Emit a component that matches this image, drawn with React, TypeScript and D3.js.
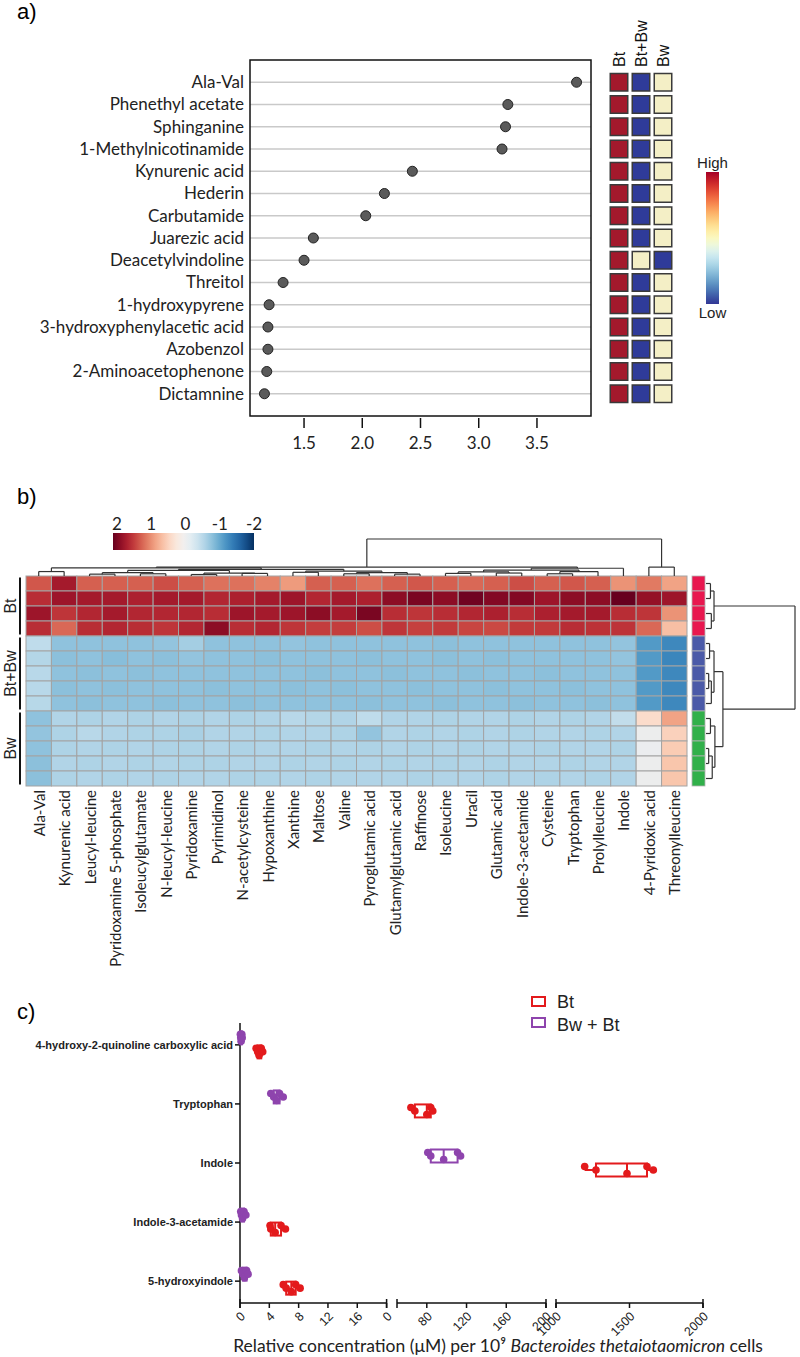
import React from "react";
import * as d3 from "d3";

// ---------------- Panel a data ----------------
const aMetabolites = [
  "Ala-Val", "Phenethyl acetate", "Sphinganine", "1-Methylnicotinamide", "Kynurenic acid",
  "Hederin", "Carbutamide", "Juarezic acid", "Deacetylvindoline", "Threitol",
  "1-hydroxypyrene", "3-hydroxyphenylacetic acid", "Azobenzol", "2-Aminoacetophenone", "Dictamnine",
];
const aScores = [3.84, 3.25, 3.23, 3.2, 2.43, 2.19, 2.03, 1.58, 1.5, 1.32, 1.2, 1.19, 1.19, 1.18, 1.16];
const aTicks = [1.5, 2.0, 2.5, 3.0, 3.5];
const aGroups = ["Bt", "Bt+Bw", "Bw"];
// relative level: 1 = high, 0.5 = middle, 0 = low
const aLevelBt = [1, 1, 1, 1, 1, 1, 1, 1, 1, 1, 1, 1, 1, 1, 1];
const aLevelBtBw = [0, 0, 0, 0, 0, 0, 0, 0, 0.5, 0, 0, 0, 0, 0, 0];
const aLevelBw = [0.5, 0.5, 0.5, 0.5, 0.5, 0.5, 0.5, 0.5, 0, 0.5, 0.5, 0.5, 0.5, 0.5, 0.5];

// ---------------- Panel b data ----------------
const bColumns = [
  "Ala-Val", "Kynurenic acid", "Leucyl-leucine", "Pyridoxamine 5-phosphate", "Isoleucylglutamate",
  "N-leucyl-leucine", "Pyridoxamine", "Pyrimidinol", "N-acetylcysteine", "Hypoxanthine",
  "Xanthine", "Maltose", "Valine", "Pyroglutamic acid", "Glutamylglutamic acid", "Raffinose",
  "Isoleucine", "Uracil", "Glutamic acid", "Indole-3-acetamide", "Cysteine", "Tryptophan",
  "Prolylleucine", "Indole", "4-Pyridoxic acid", "Threonylleucine",
];
const bGroupNames = ["Bt", "Bt+Bw", "Bw"];
const bGroupSizes = [4, 5, 5];
const bRowsBt = [
  [1.25, 1.65, 1.2, 1.2, 1.2, 1.3, 1.2, 1.1, 1.1, 1.0, 0.85, 1.2, 1.2, 1.1, 1.2, 1.25, 1.2, 1.15, 1.2, 1.3, 1.2, 1.25, 1.2, 0.9, 1.05, 0.8],
  [1.5, 1.7, 1.65, 1.65, 1.6, 1.65, 1.65, 1.55, 1.6, 1.65, 1.7, 1.55, 1.65, 1.6, 1.8, 1.9, 1.8, 1.95, 1.85, 1.85, 1.7, 1.8, 1.8, 2.0, 1.75, 1.7],
  [1.7, 1.45, 1.55, 1.65, 1.55, 1.55, 1.55, 1.5, 1.7, 1.65, 1.7, 1.8, 1.65, 1.9, 1.5, 1.45, 1.5, 1.55, 1.6, 1.5, 1.6, 1.65, 1.65, 1.5, 1.45, 0.9],
  [1.5, 1.15, 1.5, 1.55, 1.5, 1.45, 1.55, 1.8, 1.5, 1.55, 1.45, 1.4, 1.4, 1.3, 1.45, 1.38, 1.42, 1.35, 1.33, 1.42, 1.42, 1.5, 1.47, 1.46, 1.15, 0.6],
];
const bRowsBtBw = [
  [-0.5, -0.8, -0.8, -0.8, -0.8, -0.78, -0.68, -0.8, -0.8, -0.8, -0.78, -0.8, -0.8, -0.8, -0.8, -0.8, -0.82, -0.8, -0.8, -0.8, -0.8, -0.8, -0.8, -0.78, -1.15, -1.3],
  [-0.58, -0.82, -0.8, -0.84, -0.8, -0.82, -0.78, -0.8, -0.8, -0.82, -0.8, -0.8, -0.8, -0.82, -0.8, -0.8, -0.82, -0.8, -0.82, -0.8, -0.8, -0.8, -0.8, -0.78, -1.15, -1.32],
  [-0.55, -0.8, -0.82, -0.8, -0.82, -0.8, -0.8, -0.8, -0.8, -0.8, -0.8, -0.82, -0.8, -0.8, -0.82, -0.8, -0.8, -0.82, -0.8, -0.8, -0.82, -0.8, -0.8, -0.8, -1.15, -1.3],
  [-0.55, -0.82, -0.8, -0.82, -0.8, -0.8, -0.8, -0.82, -0.8, -0.8, -0.82, -0.8, -0.82, -0.8, -0.8, -0.82, -0.8, -0.8, -0.82, -0.8, -0.8, -0.82, -0.8, -0.8, -1.15, -1.3],
  [-0.56, -0.8, -0.82, -0.8, -0.8, -0.82, -0.8, -0.8, -0.82, -0.8, -0.8, -0.8, -0.8, -0.82, -0.8, -0.8, -0.82, -0.8, -0.8, -0.82, -0.8, -0.8, -0.82, -0.8, -1.15, -1.3],
];
const bRowsBw = [
  [-0.8, -0.6, -0.62, -0.6, -0.62, -0.6, -0.62, -0.6, -0.62, -0.6, -0.55, -0.58, -0.6, -0.5, -0.6, -0.6, -0.62, -0.6, -0.6, -0.62, -0.6, -0.62, -0.6, -0.48, 0.35, 0.8],
  [-0.78, -0.62, -0.55, -0.6, -0.62, -0.62, -0.65, -0.6, -0.6, -0.62, -0.6, -0.6, -0.62, -0.78, -0.6, -0.62, -0.6, -0.62, -0.6, -0.62, -0.6, -0.6, -0.62, -0.6, -0.05, 0.45],
  [-0.8, -0.62, -0.6, -0.62, -0.6, -0.62, -0.62, -0.6, -0.62, -0.6, -0.6, -0.62, -0.6, -0.62, -0.6, -0.62, -0.6, -0.62, -0.6, -0.6, -0.62, -0.6, -0.6, -0.62, -0.08, 0.5],
  [-0.82, -0.6, -0.62, -0.6, -0.62, -0.6, -0.62, -0.62, -0.6, -0.6, -0.62, -0.6, -0.62, -0.6, -0.62, -0.6, -0.62, -0.6, -0.62, -0.6, -0.6, -0.62, -0.6, -0.6, -0.05, 0.55],
  [-0.82, -0.62, -0.6, -0.62, -0.6, -0.62, -0.6, -0.6, -0.62, -0.62, -0.6, -0.62, -0.6, -0.6, -0.6, -0.62, -0.6, -0.6, -0.62, -0.6, -0.62, -0.6, -0.62, -0.6, -0.05, 0.55],
];
const bLegendTicks = [2, 1, 0, -1, -2];
type TreeNode = number | [number, TreeNode, TreeNode];
// column dendrogram: [height, left, right]
const bColTree: TreeNode = [10,
  [2.4,
    [2.2,
      [1.2, 0, 1],
      [1.8,
        [1.5, [0.9, [0.5, 2, 3], [0.6, 4, 5]], [0.8, [0.4, 6, 7], [0.7, 8, 9]]],
        [1.3, [1.0, 10, 11], [0.9, [0.6, 12, 13], [0.5, 14, 15]]],
      ],
    ],
    [2.1,
      [1.6, [1.1, [0.7, 16, 17], [0.8, 18, 19]], [1.2, [0.6, 20, 21], 22]],
      23,
    ],
  ],
  [2.4, 24, 25],
];
const bRowTree: TreeNode = [10,
  [0.9, [0.5, 0, 1], [0.6, 2, 3]],
  [1.9, [0.9, [0.4, 4, 5], [0.6, [0.3, 6, 7], 8]], [1.0, [0.5, 9, 10], [0.7, [0.3, 11, 12], 13]]],
];

// ---------------- Panel c data ----------------
const cCategories = [
  "4-hydroxy-2-quinoline carboxylic acid", "Tryptophan", "Indole", "Indole-3-acetamide", "5-hydroxyindole",
];
const cBt = [
  [2.2, 2.4, 2.6, 2.9, 3.1],
  [64, 68, 80, 84, 86],
  [1195, 1272, 1483, 1619, 1662],
  [4.1, 4.2, 4.8, 5.6, 6.2],
  [5.9, 6.3, 7.0, 7.6, 8.2],
];
const cBwBt = [
  [0.05, 0.1, 0.15, 0.25, 0.3],
  [4.2, 4.6, 5.0, 5.4, 5.9],
  [81, 84, 97, 111, 114],
  [0.1, 0.2, 0.35, 0.55, 0.8],
  [0.2, 0.4, 0.6, 0.9, 1.1],
];
const cSeg1Ticks = [0, 4, 8, 12, 16, 20];
const cSeg1Labels = ["0", "4", "8", "12", "16", "0"];
const cSeg2Ticks = [80, 120, 160, 200];
const cSeg3Ticks = [1000, 1500, 2000];
const cSeries = ["Bt", "Bw + Bt"];

const LATO = "Lato, 'Open Sans', sans-serif";
const ARIAL = "'Liberation Sans', Arial, sans-serif";

function dendro(node: TreeNode, leafPos: (i: number) => number) {
  const segs: [number, number, number, number][] = [];
  const walk = (n: TreeNode): { p: number; h: number } => {
    if (typeof n === "number") return { p: leafPos(n), h: 0 };
    const [h, a, b] = n;
    const A = walk(a);
    const B = walk(b);
    segs.push([A.p, h, B.p, h]);
    segs.push([A.p, A.h, A.p, h]);
    segs.push([B.p, B.h, B.p, h]);
    return { p: (A.p + B.p) / 2, h };
  };
  walk(node);
  return segs;
}

export default function App() {
  // ---------- panel a ----------
  const ax = d3.scaleLinear().domain([1.036, 3.964]).range([250, 591]);
  const ay = d3.scalePoint<string>().domain(aMetabolites).range([60, 416]).padding(1);
  const sqX = d3.scalePoint<string>().domain(aGroups).range([619, 663]);
  const levelColor = d3.scaleLinear<string>().domain([0, 0.5, 1]).range(["#2f3b99", "#f4efc6", "#a3192c"]);
  const aLevels = [aLevelBt, aLevelBtBw, aLevelBw];
  const gradStops = d3.range(0, 1.0001, 0.05);

  // ---------- panel b ----------
  const bx = d3.scaleBand<string>().domain(bColumns).range([26, 687]);
  const bRows = [...bRowsBt, ...bRowsBtBw, ...bRowsBw];
  const rowGroup: string[] = [];
  bGroupNames.forEach((g, i) => { for (let k = 0; k < bGroupSizes[i]; k++) rowGroup.push(g); });
  const by = d3.scaleBand<number>().domain(d3.range(bRows.length)).range([576, 786]);
  const bColor = (v: number) => {
    const c = d3.color(d3.interpolateRdBu((2 - v) / 4)) as d3.RGBColor;
    // the original palette is slightly greyer near zero
    const g = Math.max(0, 1 - Math.abs(v) / 0.4) * 0.09;
    return d3.interpolateRgb(c.formatHex(), "#cfcfcf")(g);
  };
  const annColor: Record<string, string> = { Bt: "#e8174f", "Bt+Bw": "#4b5aa8", Bw: "#31b04a" };
  const legX = d3.scaleLinear().domain([2, -2]).range([117, 254]);
  const colH = d3.scaleLinear().domain([0, 10]).range([576, 539]);
  const rowH = d3.scaleLinear().domain([0, 10]).range([706, 795]);
  const colSegs = dendro(bColTree, (i) => (bx(bColumns[i]) as number) + bx.bandwidth() / 2);
  const rowSegs = dendro(bRowTree, (i) => (by(i) as number) + by.bandwidth() / 2);
  const groupStart: number[] = [];
  let acc = 0;
  bGroupSizes.forEach((s) => { groupStart.push(acc); acc += s; });

  // ---------- panel c ----------
  const cy = d3.scalePoint<string>().domain(cCategories).range([1023, 1303]).padding(0.37);
  const s1 = d3.scaleLinear().domain([0, 20]).range([240, 386.6]);
  const s2 = d3.scaleLinear().domain([50, 200]).range([397, 546]);
  const s3 = d3.scaleLinear().domain([1000, 2000]).range([556, 703]);
  const cx = (v: number) => (v <= 20 ? s1(v) : v <= 200 ? s2(v) : s3(v));
  const cAxisY = 1303;
  const cColors = ["#e31a1c", "#8e44ad"];
  const cOffsets = [7, -7];

  const boxes: JSX.Element[] = [];
  [cBt, cBwBt].forEach((series, si) => {
    series.forEach((vals, ci) => {
      const sorted = [...vals].sort((a, b) => a - b);
      const q1 = d3.quantile(sorted, 0.25) as number;
      const med = d3.quantile(sorted, 0.5) as number;
      const q3 = d3.quantile(sorted, 0.75) as number;
      const mn = sorted[0];
      const mx = sorted[sorted.length - 1];
      const yc = (cy(cCategories[ci]) as number) + cOffsets[si];
      const col = cColors[si];
      boxes.push(
        <g key={`box-${si}-${ci}`}>
          <line x1={cx(mn)} x2={cx(q1)} y1={yc} y2={yc} stroke={col} strokeWidth={2} />
          <line x1={cx(q3)} x2={cx(mx)} y1={yc} y2={yc} stroke={col} strokeWidth={2} />
          <rect x={cx(q1)} y={yc - 6.5} width={Math.max(1, cx(q3) - cx(q1))} height={13} fill="#fff" stroke={col} strokeWidth={2} />
          <line x1={cx(med)} x2={cx(med)} y1={yc - 6.5} y2={yc + 6.5} stroke={col} strokeWidth={2} />
          {vals.map((v, k) => (
            <circle key={k} cx={cx(v)} cy={yc + ((k % 3) - 1) * 3.5} r={3.8} fill={col} />
          ))}
        </g>
      );
    });
  });

  const seg1Tick = cSeg1Ticks.map((t, i) => ({ x: s1(t), label: cSeg1Labels[i] }));
  const seg2Tick = cSeg2Ticks.map((t) => ({ x: s2(t), label: String(t) }));
  const seg3Tick = cSeg3Ticks.map((t) => ({ x: s3(t), label: String(t) }));
  const allTicks = [...seg1Tick, ...seg2Tick, ...seg3Tick];
  const segRanges = [s1.range(), s2.range(), s3.range()];

  return (
    <svg width={800} height={1357} style={{ position: "absolute", left: 0, top: 0, background: "#fff" }}>
      <defs>
        <linearGradient id="gradA" x1="0" y1="0" x2="0" y2="1">
          {gradStops.map((t) => (
            <stop key={t} offset={t} stopColor={d3.interpolateRdYlBu(t)} />
          ))}
        </linearGradient>
        <linearGradient id="gradB" x1="0" y1="0" x2="1" y2="0">
          {gradStops.map((t) => (
            <stop key={t} offset={t} stopColor={d3.interpolateRdBu(t)} />
          ))}
        </linearGradient>
      </defs>

      {/* ================= Panel a ================= */}
      <text x={17} y={19} fontFamily={ARIAL} fontSize={22}>a)</text>
      {aMetabolites.map((m) => (
        <line key={"g" + m} x1={250} x2={591} y1={ay(m)} y2={ay(m)} stroke="#c9c9c9" strokeWidth={1.6} />
      ))}
      <rect x={250} y={60} width={341} height={356} fill="none" stroke="#111" strokeWidth={1.5} />
      {aMetabolites.map((m) => (
        <text key={"l" + m} x={244} y={ay(m) as number} dy="0.35em" textAnchor="end" fontFamily={LATO} fontSize={17} fill="#222">
          {m}
        </text>
      ))}
      {aMetabolites.map((m, i) => (
        <circle key={"d" + m} cx={ax(aScores[i])} cy={ay(m)} r={5} fill="#5a5a5a" stroke="#222" strokeWidth={1} />
      ))}
      {aTicks.map((t) => (
        <g key={"t" + t}>
          <line x1={ax(t)} x2={ax(t)} y1={418} y2={428} stroke="#111" strokeWidth={1.5} />
          <text x={ax(t)} y={449} textAnchor="middle" fontFamily={LATO} fontSize={17} fill="#222">
            {t.toFixed(1)}
          </text>
        </g>
      ))}
      {aGroups.map((g) => (
        <text key={"h" + g} transform={`translate(${sqX(g)},67) rotate(-90)`} textAnchor="start" dominantBaseline="central" fontFamily={ARIAL} fontSize={16} fill="#111">
          {g}
        </text>
      ))}
      {aGroups.map((g, gi) =>
        aMetabolites.map((m, i) => (
          <rect key={"s" + g + m} x={(sqX(g) as number) - 8.75} y={(ay(m) as number) - 8.75} width={17.5} height={17.5}
            fill={levelColor(aLevels[gi][i])} stroke="#3a3a3a" strokeWidth={1.5} />
        ))
      )}
      <text x={712.5} y={168} textAnchor="middle" fontFamily={ARIAL} fontSize={15} fill="#222">High</text>
      <rect x={706} y={172} width={13} height={132} fill="url(#gradA)" />
      <text x={712.5} y={318} textAnchor="middle" fontFamily={ARIAL} fontSize={15} fill="#222">Low</text>

      {/* ================= Panel b ================= */}
      <text x={17} y={504} fontFamily={ARIAL} fontSize={22}>b)</text>
      <rect x={113} y={533} width={141} height={17} fill="url(#gradB)" />
      {bLegendTicks.map((t) => (
        <text key={"bl" + t} x={legX(t)} y={530} textAnchor="middle" fontFamily={LATO} fontSize={17} fill="#222">
          {t}
        </text>
      ))}
      {bRows.map((row, r) =>
        row.map((v, c) => (
          <rect key={`c${r}-${c}`} x={bx(bColumns[c])} y={by(r)} width={bx.bandwidth()} height={by.bandwidth()}
            fill={bColor(v)} stroke="#a3a3a3" strokeWidth={1} />
        ))
      )}
      {bRows.map((_, r) => (
        <rect key={"ann" + r} x={692} y={by(r)} width={13} height={by.bandwidth()} fill={annColor[rowGroup[r]]} stroke="#b5b5b5" strokeWidth={0.8} />
      ))}
      {colSegs.map(([p1, h1, p2, h2], i) => (
        <line key={"cd" + i} x1={p1} x2={p2} y1={colH(h1)} y2={colH(h2)} stroke="#333" strokeWidth={1.2} />
      ))}
      {rowSegs.map(([p1, h1, p2, h2], i) => (
        <line key={"rd" + i} x1={rowH(h1)} x2={rowH(h2)} y1={p1} y2={p2} stroke="#333" strokeWidth={1.2} />
      ))}
      {bGroupNames.map((g, gi) => {
        const y0 = by(groupStart[gi]) as number;
        const y1 = (by(groupStart[gi] + bGroupSizes[gi] - 1) as number) + by.bandwidth();
        return (
          <g key={"grp" + g}>
            <line x1={20} x2={20} y1={y0 + 1.5} y2={y1 - 1.5} stroke="#111" strokeWidth={2} />
            <text transform={`translate(10,${(y0 + y1) / 2}) rotate(-90)`} textAnchor="middle" dominantBaseline="central" fontFamily={ARIAL} fontSize={16} fill="#222">
              {g}
            </text>
          </g>
        );
      })}
      {bColumns.map((c) => (
        <text key={"cl" + c} transform={`translate(${(bx(c) as number) + bx.bandwidth() / 2},790) rotate(-90)`} textAnchor="end" dominantBaseline="central" fontFamily={LATO} fontSize={15} fill="#222">
          {c}
        </text>
      ))}

      {/* ================= Panel c ================= */}
      <text x={17} y={1019} fontFamily={ARIAL} fontSize={22}>c)</text>
      {cSeries.map((s, i) => (
        <g key={"lg" + s}>
          <rect x={532} y={997 + i * 21} width={13} height={9} fill="#fff" stroke={cColors[i]} strokeWidth={2} />
          <text x={557} y={1008 + i * 23} fontFamily={ARIAL} fontSize={18} fill="#222">{s}</text>
        </g>
      ))}
      <line x1={240} x2={240} y1={1023} y2={cAxisY} stroke="#111" strokeWidth={1.5} />
      {cCategories.map((c) => (
        <g key={"cy" + c}>
          <line x1={235} x2={240} y1={cy(c)} y2={cy(c)} stroke="#111" strokeWidth={1.5} />
          <text x={233} y={cy(c) as number} dy="0.35em" textAnchor="end" fontFamily={ARIAL} fontWeight="bold" fontSize={11} fill="#222">
            {c}
          </text>
        </g>
      ))}
      {segRanges.map(([r0, r1], i) => (
        <g key={"seg" + i}>
          <line x1={r0} x2={r1} y1={cAxisY} y2={cAxisY} stroke="#111" strokeWidth={1.5} />
          <line x1={r0} x2={r0} y1={cAxisY - 4} y2={cAxisY + 5} stroke="#111" strokeWidth={1.5} />
          <line x1={r1} x2={r1} y1={cAxisY - 4} y2={cAxisY + 5} stroke="#111" strokeWidth={1.5} />
        </g>
      ))}
      {allTicks.map((t, i) => (
        <g key={"xt" + i}>
          <line x1={t.x} x2={t.x} y1={cAxisY} y2={cAxisY + 5} stroke="#111" strokeWidth={1.5} />
          <text transform={`translate(${t.x + 6},${cAxisY + 14}) rotate(-45)`} textAnchor="end" fontFamily={ARIAL} fontSize={12.5} fill="#222">
            {t.label}
          </text>
        </g>
      ))}
      {boxes}
      <text x={498} y={1352} textAnchor="middle" fontFamily={LATO} fontSize={17.5} fill="#222">
        Relative concentration (μM) per 10⁹ <tspan fontStyle="italic">Bacteroides thetaiotaomicron</tspan> cells
      </text>
    </svg>
  );
}
